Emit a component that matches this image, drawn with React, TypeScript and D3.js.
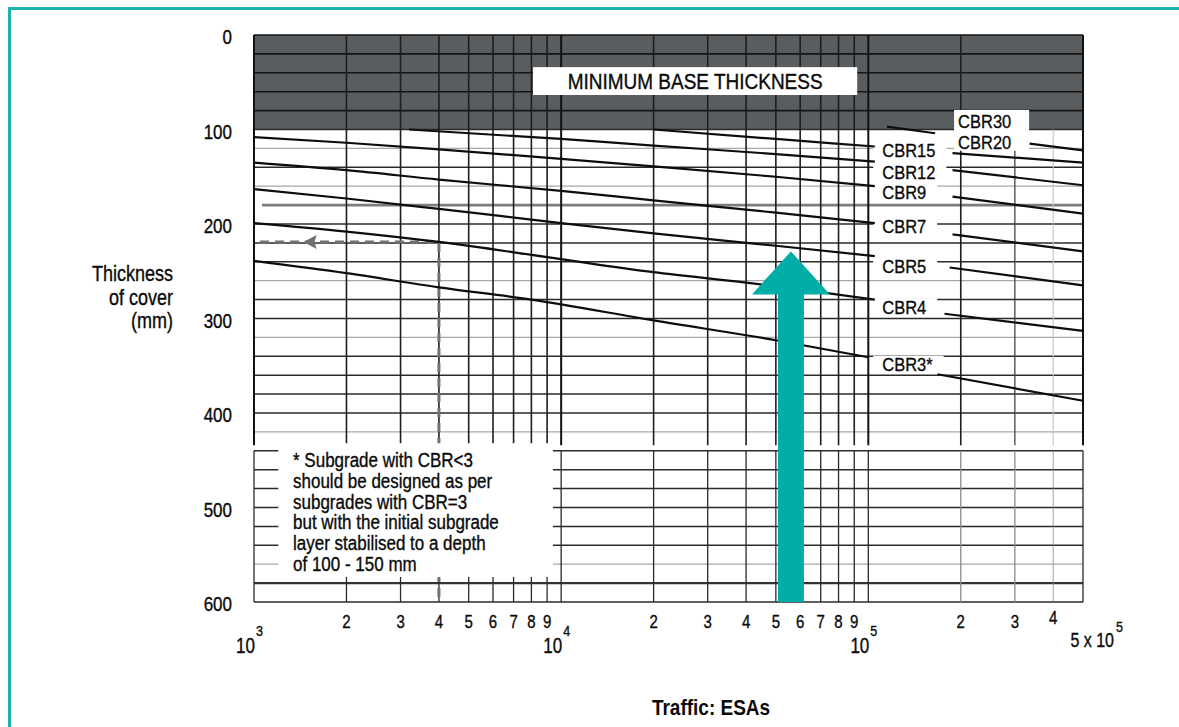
import React, { useEffect, useRef } from 'react';
import * as d3 from 'd3';

// thickness of cover (mm) against traffic (ESA)
// null = break in the line where the label sits
const cbr20: any[] = [[1.15e5, 97], [1.65e5, 104], null, [3.35e5, 115], [5e5, 122]];
const cbr15: any[] = [[2e4, 100], [5e4, 110], [1.05e5, 118], null, [1.88e5, 125], [5e5, 135]];
const cbr12: any[] = [[3.2e3, 100], [1e4, 110], [2e4, 117], [5e4, 126], [1.05e5, 134], null, [1.88e5, 143], [5e5, 159]];
const cbr9: any[] = [[1e3, 108], [2e3, 114], [4e3, 121], [1e4, 131], [2e4, 139], [5e4, 150], [1.05e5, 160], null, [1.88e5, 171], [5e5, 189]];
const cbr7: any[] = [[1e3, 135], [2e3, 143], [4e3, 153], [1e4, 165], [2e4, 175], [5e4, 188], [1.05e5, 199], null, [1.88e5, 211], [5e5, 229]];
const cbr5: any[] = [[1e3, 163], [2e3, 173], [4e3, 184], [1e4, 199], [2e4, 210], [5e4, 223], [1.05e5, 234], null, [1.84e5, 246], [5e5, 265]];
const cbr4: any[] = [[1e3, 199], [2e3, 208], [4e3, 219], [9e3, 235], [2e4, 251], [4e4, 262], [1.05e5, 280], null, [1.77e5, 295], [5e5, 313]];
const cbr3: any[] = [[1e3, 239], [2e3, 252], [4e3, 267], [8e3, 280], [2e4, 302], [5e4, 323], [1e5, 341], null, [1.68e5, 359], [5e5, 387]];
const curves = [cbr20, cbr15, cbr12, cbr9, cbr7, cbr5, cbr4, cbr3];

const leftLabels = ['CBR15', 'CBR12', 'CBR9', 'CBR7', 'CBR5', 'CBR4', 'CBR3*'];
const leftLabelMM = [122, 145, 167, 202, 245, 288, 349];
const leftLabelESA = 1.11e5;
const rightLabels = ['CBR30', 'CBR20'];
const rightLabelMM = [91, 114];
const rightLabelESA = 1.96e5;

const yTicks = [0, 100, 200, 300, 400, 500, 600];
const decades = [1e3, 1e4, 1e5];
const decadeExp = ['3', '4', '5'];
const multiples = [1, 2, 3, 4, 5, 6, 7, 8, 9];
const minorLabels = ['2', '3', '4', '5', '6', '7', '8', '9'];
const greyRows = [120, 160, 260, 320, 420, 560];

const noteLines = [
  '* Subgrade with CBR<3',
  'should be designed as per',
  'subgrades with CBR=3',
  'but with the initial subgrade',
  'layer stabilised to a depth',
  'of 100 - 150 mm',
];

// worked example: 4000 ESA -> 219 mm, and the highlighted traffic
const exampleESA = 4e3;
const exampleMM = 219;
const arrowESA = 5.6e4;
const arrowMM = 229;

const FONT = "'Liberation Sans', Arial, Helvetica, sans-serif";
const TEAL = '#00ada7';

const App = () => {
  const svgRef: any = useRef();

  useEffect(() => {
    const width = 1179;
    const height = 727;
    const svg = d3.select(svgRef.current).attr('width', width).attr('height', height);
    svg.selectAll('*').remove();

    const x = d3.scaleLog().domain([1e3, 5e5]).range([254, 1083]);
    const y = d3.scaleLinear().domain([0, 600]).range([35, 602]);

    // tall, narrow lettering like the scanned chart
    const label = (g: any, s: string, cx: number, cy: number, size: number, anchor = 'middle', sy = 1.2, weight = 'normal') =>
      g.append('text')
        .attr('transform', `translate(${cx},${cy + size * 0.36 * sy}) scale(1,${sy})`)
        .attr('text-anchor', anchor)
        .attr('font-family', FONT)
        .attr('font-size', size)
        .attr('font-weight', weight)
        .attr('fill', '#0a0a0a')
        .attr('stroke', '#0a0a0a')
        .attr('stroke-width', weight === 'bold' ? 0 : 0.3)
        .text(s);

    svg.append('rect').attr('width', width).attr('height', height).attr('fill', '#fff');

    // teal frame (top and left only)
    svg.append('path')
      .attr('d', `M9.5,${height} L9.5,8.5 L${width},8.5`)
      .attr('fill', 'none')
      .attr('stroke', '#1ab3ab')
      .attr('stroke-width', 3);

    // minimum base thickness band
    svg.append('rect')
      .attr('x', x(1e3)).attr('y', y(0))
      .attr('width', x(5e5) - x(1e3)).attr('height', y(100) - y(0))
      .attr('fill', '#5a5d5f');

    const grid = svg.append('g');
    const columns = decades.flatMap((d) => multiples.map((m) => d * m)).filter((v) => v <= 5e5);

    // horizontal rules every 20 mm, upper and lower panels
    const upperRows = d3.range(0, 421, 20);
    const lowerRows = d3.range(440, 601, 20);
    upperRows.concat(lowerRows).forEach((v) => {
      let stroke = '#2a2a2a';
      let sw = 1.5;
      if (v < 100) { stroke = '#151515'; sw = 1.6; }
      if (greyRows.includes(v)) { stroke = '#a8a8a8'; sw = 1.3; }
      if (v === 180) { stroke = '#7d7d7d'; sw = 2.6; }
      if (v === 580) { stroke = '#333'; sw = 2.4; }
      grid.append('line')
        .attr('x1', v === 180 ? x(1e3) + 8 : x(1e3)).attr('x2', x(5e5))
        .attr('y1', y(v)).attr('y2', y(v))
        .attr('stroke', stroke).attr('stroke-width', sw);
    });

    // vertical rules on each log multiple
    columns.forEach((v) => {
      let stroke = '#1e1e1e';
      let sw = 1.6;
      let top = 0;
      if (v === 1e3 || v === 1e4 || v === 1e5 || v === 5e5) { stroke = '#111'; sw = 2; }
      if (v === 3e5) { stroke = '#444'; sw = 1.3; top = 100; }
      if (v === 4e5) { stroke = '#c4c4c4'; sw = 1.1; top = 100; }
      grid.append('line')
        .attr('x1', x(v)).attr('x2', x(v))
        .attr('y1', y(top)).attr('y2', y(434))
        .attr('stroke', stroke).attr('stroke-width', sw);
      grid.append('line')
        .attr('x1', x(v)).attr('x2', x(v))
        .attr('y1', y(440)).attr('y2', y(600))
        .attr('stroke', v > 1e5 && v < 5e5 ? '#8a8a8a' : '#2a2a2a')
        .attr('stroke-width', v === 4e5 ? 0.8 : 1.3);
    });

    // white panels behind labels
    const boxes = svg.append('g');
    const texts = svg.append('g');

    leftLabels.forEach((name, i) => {
      const cy = y(leftLabelMM[i]);
      const lx = x(leftLabelESA);
      const t = label(texts, name, lx, cy, 16.5, 'start', 1.12);
      const w = (t.node() as SVGTextElement).getComputedTextLength();
      boxes.append('rect')
        .attr('x', lx - 9).attr('y', cy - 9)
        .attr('width', w + 20).attr('height', 18)
        .attr('fill', '#fff');
    });

    const rx = x(rightLabelESA);
    boxes.append('rect')
      .attr('x', rx - 4).attr('y', y(rightLabelMM[0]) - 11)
      .attr('width', 75).attr('height', y(rightLabelMM[1]) - y(rightLabelMM[0]) + 19)
      .attr('fill', '#fff');
    rightLabels.forEach((name, i) => {
      label(texts, name, rx, y(rightLabelMM[i]), 16.5, 'start', 1.12);
    });

    // MINIMUM BASE THICKNESS panel
    boxes.append('rect')
      .attr('x', x(8.1e3)).attr('y', y(34))
      .attr('width', x(9.2e4) - x(8.1e3)).attr('height', y(63.5) - y(34))
      .attr('fill', '#fff');
    label(texts, 'MINIMUM BASE THICKNESS', (x(8.1e3) + x(9.2e4)) / 2, y(48.5), 19, 'middle', 1.2);

    // worked example (dashed)
    const ex = x(exampleESA);
    const ey = y(exampleMM);
    svg.append('path')
      .attr('d', `M${x(1e3) + 6},${ey} H${ex} V${y(600)}`)
      .attr('fill', 'none')
      .attr('stroke', '#707070')
      .attr('stroke-width', 3)
      .attr('stroke-dasharray', '9,6');
    const tipX = x(1.45e3);
    svg.append('path')
      .attr('d', `M${tipX},${ey} L${tipX + 13},${ey - 7} L${tipX + 11},${ey} L${tipX + 13},${ey + 7} Z`)
      .attr('fill', '#707070');

    // footnote panel
    svg.append('rect')
      .attr('x', x(1.2e3)).attr('y', y(432))
      .attr('width', x(9.4e3) - x(1.2e3)).attr('height', y(573.5) - y(432))
      .attr('fill', '#fff');
    noteLines.forEach((s, i) => {
      label(svg, s, x(1.34e3), y(450) + i * 20.7, 17, 'start', 1.15);
    });

    // CBR curves
    const line = d3.line<any>()
      .defined((d) => d !== null)
      .x((d) => x(d[0]))
      .y((d) => y(d[1]))
      .curve(d3.curveMonotoneX);
    curves.forEach((c) => {
      svg.append('path')
        .attr('d', line(c))
        .attr('fill', 'none')
        .attr('stroke', '#0d0d0d')
        .attr('stroke-width', 2.2);
    });
    texts.raise();

    // y axis labels
    yTicks.forEach((v) => {
      label(svg, String(v), 232, y(v) + 2, 17, 'end', 1.2);
    });
    label(svg, 'Thickness', 173, 273, 18, 'end', 1.2);
    label(svg, 'of cover', 173, 297, 18, 'end', 1.2);
    label(svg, '(mm)', 173, 320, 18, 'end', 1.2);

    // x axis labels
    decades.forEach((d, i) => {
      const labels = d === 1e5 ? minorLabels.slice(0, 3) : minorLabels;
      labels.forEach((s) => {
        label(svg, s, x(d * +s), d === 1e5 && s === '4' ? 618 : 622, 15, 'middle', 1.18);
      });
      label(svg, '10', x(d) + 1, 645, 17, 'end', 1.25);
      label(svg, decadeExp[i], x(d) + 2, 631, 12.5, 'start', 1.2);
    });
    label(svg, '5 x 10', x(5e5) + 31, 640, 16, 'end', 1.25);
    label(svg, '5', x(5e5) + 33, 627, 12.5, 'start', 1.2);

    label(svg, 'Traffic: ESAs', 711, 707, 19, 'middle', 1.18, 'bold');

    // highlighted traffic arrow
    const ax = x(arrowESA);
    const tipY = y(arrowMM);
    const headY = tipY + 43;
    svg.append('path')
      .attr('d', `M${ax},${tipY} L${ax + 39},${headY} L${ax + 13},${headY} L${ax + 13},${y(600)} L${ax - 13},${y(600)} L${ax - 13},${headY} L${ax - 39},${headY} Z`)
      .attr('fill', TEAL);
  }, []);

  return <svg ref={svgRef} style={{ position: 'absolute', left: 0, top: 0, display: 'block' }}></svg>;
};

export default App;
